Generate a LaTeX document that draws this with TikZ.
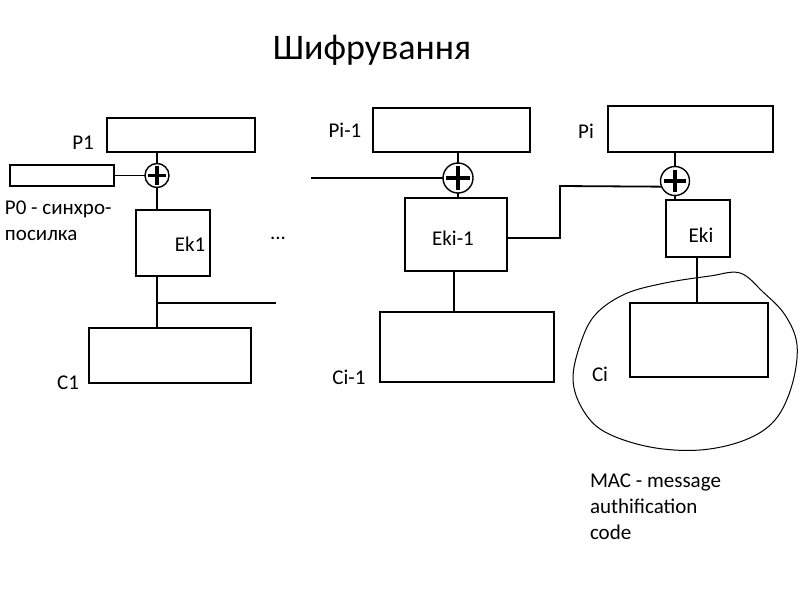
\documentclass[tikz,border=0pt]{standalone}
\usepackage{fontspec}
\setmainfont{Carlito}
\begin{document}
\begin{tikzpicture}[x=1pt,y=-1pt,
  every node/.style={inner sep=0pt, outer sep=0pt},
  blk/.style={draw, line width=2.2pt, rectangle},
  lbl/.style={font=\fontsize{21}{26}\selectfont},
  wire/.style={line width=1.8pt},
  xorgate/.style={draw, circle, line width=1.4pt, fill=white,
    path picture={
      \draw[line width=3.2pt]
        ([yshift=-0.78*#1]path picture bounding box.center) -- ([yshift=0.78*#1]path picture bounding box.center)
        ([xshift=-0.78*#1]path picture bounding box.center) -- ([xshift=0.78*#1]path picture bounding box.center);
    }},
]
\useasboundingbox (0,0) rectangle (800,600);

% title
\node[font=\fontsize{36}{40}\selectfont] (title) at (372,50) {Шифрування};

% first block
\node[blk, minimum width=148pt, minimum height=34pt] (P1) at (181,135) {};
\node[lbl] (P1t) at (83,143) {P1};
\node[blk, minimum width=104pt, minimum height=21pt] (P0) at (62,175.5) {};
\node[lbl, anchor=west, align=left] (P0t) at (5,221) {P0 - синхро-\\посилка};
\node[xorgate=12pt, minimum size=24pt] (xor1) at (157,175.5) {};
\node[blk, minimum width=74pt, minimum height=66pt] (Ek1) at (173,243) {};
\node[lbl] (Ek1t) at (190,244) {Ek1};
\node[blk, minimum width=162pt, minimum height=55pt] (C1) at (170,355.5) {};
\node[lbl] (C1t) at (68,383) {C1};
\node[lbl] (dots) at (278,238) {...};

\draw[wire] (xor1 |- P1.south) -- (xor1.north);
\draw[wire] (P0.east) -- (xor1.west);
\draw[wire] (xor1.south) -- (xor1 |- Ek1.north);
\draw[wire] (xor1 |- Ek1.south) -- (xor1 |- C1.north);
\coordinate (br1) at (157,303);
\coordinate (br1end) at (276,303);
\draw[wire] (br1) -- (br1end);

% block i-1
\node[blk, minimum width=157pt, minimum height=44pt] (Pim) at (451.5,130) {};
\node[lbl] (Pimt) at (345,130) {Pi-1};
\node[xorgate=15pt, minimum size=30pt] (xor2) at (458,178) {};
\node[blk, minimum width=102pt, minimum height=73pt] (Ekim) at (456,234.5) {};
\node[lbl] (Ekimt) at (453,238) {Eki-1};
\node[blk, minimum width=174pt, minimum height=70pt] (Cim) at (467,347) {};
\node[lbl] (Cimt) at (349,377) {Ci-1};
\coordinate (inm) at (311,178);

\draw[wire] (xor2 |- Pim.south) -- (xor2.north);
\draw[wire] (inm) -- (xor2.west);
\draw[wire] (xor2.south) -- (xor2 |- Ekim.north);
\draw[wire] ([xshift=-4pt]xor2.center |- Ekim.south) -- ([xshift=-4pt]xor2.center |- Cim.north);

% block i
\node[blk, minimum width=165pt, minimum height=46pt] (Pi) at (690.5,129) {};
\node[lbl] (Pit) at (586,131) {Pi};
\node[xorgate=14.5pt, minimum size=29pt] (xor3) at (675,181) {};
\node[blk, minimum width=64pt, minimum height=57pt] (Eki) at (698,228.5) {};
\node[lbl] (Ekit) at (701,235) {Eki};
\node[blk, minimum width=138pt, minimum height=74pt] (Ci) at (699,340) {};
\node[lbl] (Cit) at (600,374) {Ci};

\draw[wire] (xor3 |- Pi.south) -- (xor3.north);
\draw[wire] (xor3.south) -- (xor3 |- Eki.north);
\draw[wire] (697,257) -- (697,303);
\draw[wire] (Ekim.east |- 0,238) -- (560,238) -- (560,186) -- (xor3.203);

% freehand outline around the last ciphertext block
\draw[line width=1pt] plot[smooth cycle, tension=0.6] coordinates {
  (740,273) (763,292) (785,315) (797,345) (792,385) (775,420) (745,440)
  (700,450) (650,447) (605,432) (583,410) (573,380) (580,345) (595,315)
  (625,294) (665,283) (710,276)};

\node[lbl, anchor=west, align=left] (mac) at (590,507) {MAC - message\\authification\\code};
\end{tikzpicture}
\end{document}
